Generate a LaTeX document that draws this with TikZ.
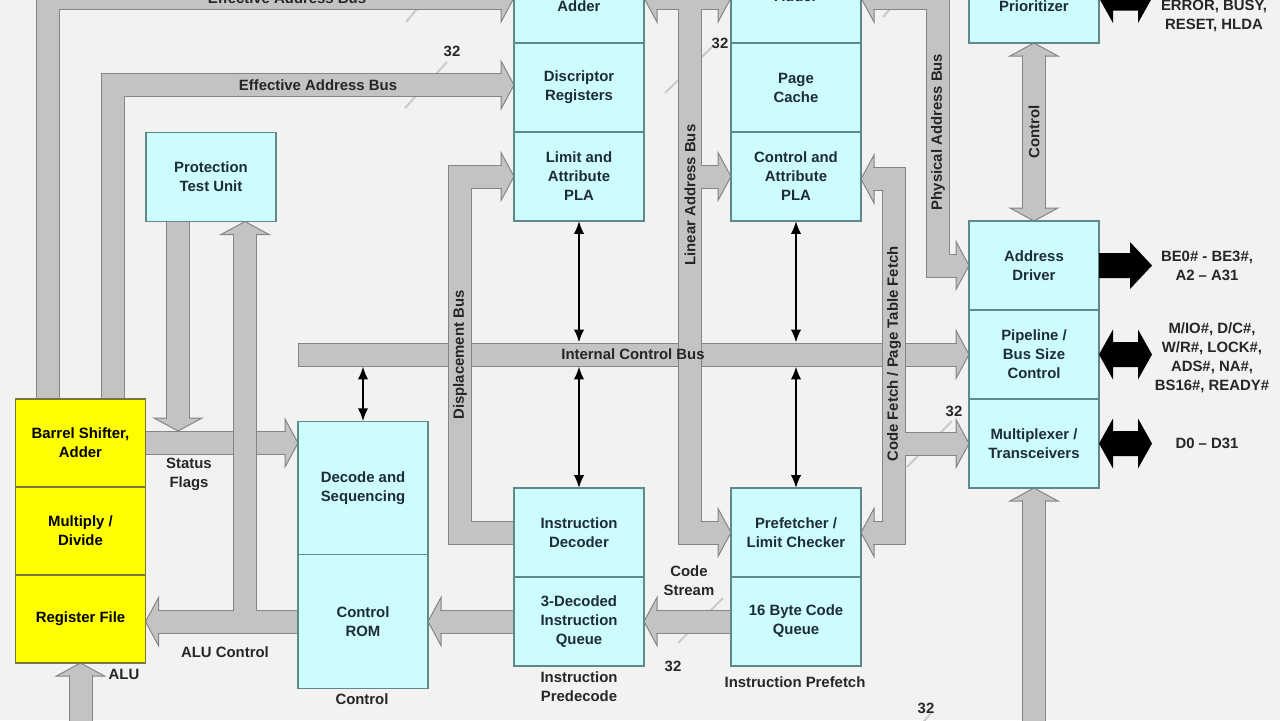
\documentclass[tikz,border=0pt]{standalone}
\usepackage{fontspec}
\setmainfont{Liberation Sans}
\usetikzlibrary{arrows.meta,positioning,calc}
\definecolor{pagebg}{HTML}{F2F2F0}
\definecolor{cellfill}{HTML}{CCFCFC}
\definecolor{cellline}{HTML}{5E8A8C}
\definecolor{celltext}{HTML}{1E2C3A}
\definecolor{alufill}{HTML}{FFFF00}
\definecolor{aluline}{HTML}{77773A}
\definecolor{busfill}{HTML}{C3C3C3}
\definecolor{busline}{HTML}{858585}
\definecolor{tickgray}{HTML}{CBCBCB}
\definecolor{lbltext}{HTML}{262626}
\pgfdeclarelayer{back}
\pgfdeclarelayer{buses}
\pgfsetlayers{back,buses,main}
\newcommand\diafont{\fontsize{10.6}{13.5}\selectfont\bfseries}

\begin{document}
\begin{tikzpicture}[
    x=0.25mm, y=-0.25mm,
    font=\diafont,
    cell/.style={draw=cellline, fill=cellfill, line width=0.3mm, minimum width=32.5mm, minimum height=22.25mm, inner sep=0pt, outer sep=0pt, align=center, text=celltext},
    alucell/.style={cell, draw=aluline, fill=alufill, text=black, minimum height=22mm},
    tallcell/.style={cell, minimum height=33.4mm},
    lbl/.style={text=lbltext, align=center, inner sep=0pt},
    bus/.style={draw=busline, double=busfill, double distance=5.5mm, line width=0.25mm, line join=miter},
    bushead/.style={fill=busfill, draw=busline, line width=0.25mm, line join=miter},
    tick/.style={tickgray, line width=0.5mm},
    sig/.style={{Latex[length=3.2mm,width=2.6mm]}-{Latex[length=3.2mm,width=2.6mm]}, line width=0.5mm},
    pics/busR/.style={code={\filldraw[bushead] (0,0) -- (-13,-24) -- (-13,24) -- cycle;}},
    pics/busL/.style={code={\filldraw[bushead] (0,0) -- (13,-24) -- (13,24) -- cycle;}},
    pics/busU/.style={code={\filldraw[bushead] (0,0) -- (-24,13) -- (24,13) -- cycle;}},
    pics/busD/.style={code={\filldraw[bushead] (0,0) -- (-24,-13) -- (24,-13) -- cycle;}},
    pics/sigtwo/.style={code={\fill (0,0) -- (14,-25) -- (14,-12.5) -- (39,-12.5) -- (39,-25) -- (53,0) -- (39,25) -- (39,12.5) -- (14,12.5) -- (14,25) -- cycle;}},
    pics/sigone/.style={code={\fill (0,-12.5) -- (31,-12.5) -- (31,-23.5) -- (53,0) -- (31,23.5) -- (31,12.5) -- (0,12.5) -- cycle;}},
]
    \useasboundingbox (0,0) rectangle (1280,720);
    \begin{pgfonlayer}{back}
        \fill[pagebg] (0,0) rectangle (1280,720);
    \end{pgfonlayer}

    % ---------------------------------------------------------------
    % Segmentation and paging units
    % ---------------------------------------------------------------
    \node[cell] (segdesc) at (579,87.5) {Discriptor\\Registers};
    \node[cell, minimum height=18.25mm, above=0pt of segdesc] (segadd) {Adder};
    \node[cell, below=0pt of segdesc] (segpla) {Limit and\\Attribute\\PLA};

    \node[cell] (pgcache) at (796,87.5) {Page\\Cache};
    \node[cell, minimum height=23.25mm, above=0pt of pgcache] (pgadd) {Adder};
    \node[cell, below=0pt of pgcache] (pgpla) {Control and\\Attribute\\PLA};

    % ---------------------------------------------------------------
    % Bus interface unit
    % ---------------------------------------------------------------
    \node[cell, minimum height=18.25mm] (prio) at (1034,6.5) {Prioritizer};
    \node[cell] (adrv) at (1034,265.5) {Address\\Driver};
    \node[cell, below=0pt of adrv] (pipe) {Pipeline /\\Bus Size\\Control};
    \node[cell, below=0pt of pipe] (mux) {Multiplexer /\\Transceivers};

    % ---------------------------------------------------------------
    % Execution and control units
    % ---------------------------------------------------------------
    \node[cell] (ptu) at (211,177) {Protection\\Test Unit};
    \node[alucell] (alu1) at (80.5,443) {Barrel Shifter,\\Adder};
    \node[alucell, below=0pt of alu1] (alu2) {Multiply /\\Divide};
    \node[alucell, below=0pt of alu2] (regf) {Register File};
    \node[tallcell] (decseq) at (363,488) {Decode and\\Sequencing};
    \node[tallcell, below=0pt of decseq] (rom) {Control\\ROM};

    % ---------------------------------------------------------------
    % Instruction decode and prefetch units
    % ---------------------------------------------------------------
    \node[cell] (idec) at (579,532.5) {Instruction\\Decoder};
    \node[cell, below=0pt of idec] (dq) {3-Decoded\\Instruction\\Queue};
    \node[cell] (prefetch) at (796,532.5) {Prefetcher /\\Limit Checker};
    \node[cell, below=0pt of prefetch] (cq) {16 Byte Code\\Queue};

    % bus end points
    \coordinate (eaOtip) at (segadd.west |- 0,-2);
    \coordinate (eaItip) at (segdesc.west |- 0,85);
    \coordinate (linL) at (segadd.east |- 0,-2);
    \coordinate (linR) at (pgadd.west |- 0,-2);
    \coordinate (linPla) at (pgpla.west);
    \coordinate (linPf) at (prefetch.west);
    \coordinate (phyL) at (pgadd.east |- 0,-2);
    \coordinate (phyR) at (adrv.west);
    \coordinate (cfA) at (pgpla.east |- 0,179);
    \coordinate (cfB) at (prefetch.east);
    \coordinate (cfC) at (mux.west);
    \coordinate (icbTip) at (pipe.west);
    \coordinate (icbL) at (decseq.west |- icbTip);
    \coordinate (icbN) at ([yshift=3mm]icbL);
    \coordinate (icbS) at ([yshift=-3mm]icbL);
    \coordinate (stTip) at (decseq.west |- alu1.east);
    \coordinate (ptdTip) at (178,431);
    \coordinate (acTip) at (rom.west -| regf.east);
    \coordinate (ptuIn) at (ptu.south -| 245,0);
    \coordinate (romTip) at (rom.east |- dq.west);

    \begin{pgfonlayer}{buses}
        % width marks
        \draw[tick] (406,22) -- (440,-18);
        \draw[tick] (405,108) -- (447,62);
        \draw[tick] (665,93) -- (712,47);
        \draw[tick] (678,643) -- (723,598);
        \draw[tick] (907,467) -- (952,421);
        \draw[tick] (883,17) -- (905,-8);
        \draw[tick] (920,726) -- (931,713);

        % arrow heads
        \pic at (eaOtip) {busR};
        \pic at (eaItip) {busR};
        \pic at (linL) {busL};
        \pic at (linR) {busR};
        \pic at (linPla) {busR};
        \pic at (linPf) {busR};
        \pic at (phyL) {busL};
        \pic at (phyR) {busR};
        \pic at (cfA) {busL};
        \pic at (cfB) {busL};
        \pic at (cfC) {busR};
        \pic at (icbTip) {busR};
        \pic at (segpla.west) {busR};
        \pic at (stTip) {busR};
        \pic at (ptdTip) {busD};
        \pic at (acTip) {busL};
        \pic at (ptuIn) {busU};
        \pic at (romTip) {busL};
        \pic at (dq.east) {busL};
        \pic at (regf.south) {busU};
        \pic at (mux.south) {busU};
        \pic at (prio.south) {busU};
        \pic at (adrv.north) {busD};

        % bus bands
        \draw[bus] (alu1.east) -- ([xshift=-3mm]stTip);
        \draw[bus] (icbL) -- ([xshift=-3mm]icbTip);
        \draw[busline, line width=0.25mm] (icbN) -- (icbS);
        \draw[bus] (ptu.south -| 178,0) -- ([yshift=3mm]ptdTip);
        \draw[bus] (rom.west) -- ([xshift=3mm]acTip) (rom.west -| 245,0) -- ([yshift=-3mm]ptuIn);
        \draw[bus] (alu1.north -| 48,0) |- ([xshift=-3mm]eaOtip);
        \draw[bus] (alu1.north -| 113,0) |- ([xshift=-3mm]eaItip);
        \draw[bus] ([xshift=3mm]linL) -- ([xshift=-3mm]linR)
                   (linL -| 690,0) |- ([xshift=-3mm]linPf)
                   (linPla -| 690,0) -- ([xshift=-3mm]linPla);
        \draw[bus] ([xshift=3mm]phyL) -- (phyL -| 937.5,0) |- ([xshift=-3mm]phyR);
        \draw[bus] ([xshift=3mm]cfA) -- (cfA -| 894,0) |- ([xshift=3mm]cfB)
                   (cfC -| 894,0) -- ([xshift=-3mm]cfC);
        \draw[bus] (idec.west) -- (idec.west -| 460,0) |- ([xshift=-3mm]segpla.west);
        \draw[bus] (dq.west) -- ([xshift=3mm]romTip);
        \draw[bus] (cq.west) -- ([xshift=3mm]dq.east);
        \draw[bus] (regf.south |- 0,730) -- ([yshift=-3mm]regf.south);
        \draw[bus] (mux.south |- 0,730) -- ([yshift=-3mm]mux.south);
        \draw[bus] ([yshift=-3mm]prio.south) -- ([yshift=3mm]adrv.north);
    \end{pgfonlayer}

    % bus labels
    \node[lbl] (eaolbl) at (287,-2) {Effective Address Bus};
    \node[lbl] (eailbl) at (318,85) {Effective Address Bus};
    \node[lbl] (icblbl) at (633,354) {Internal Control Bus};
    \node[lbl, rotate=90] (linlbl) at (690,195) {Linear Address Bus};
    \node[lbl, rotate=90] (phylbl) at (938,132) {Physical Address Bus};
    \node[lbl, rotate=90] (ctrllbl) at (1034,132) {Control};
    \node[lbl, rotate=90] (cflbl) at (894,354) {Code Fetch / Page Table Fetch};
    \node[lbl, rotate=90] (displbl) at (460,355) {Displacement Bus};

    % bus widths
    \node[lbl] (w1) at (452,51) {32};
    \node[lbl] (w2) at (720,43) {32};
    \node[lbl] (w3) at (954,411) {32};
    \node[lbl] (w4) at (673,666) {32};
    \node[lbl] (w5) at (926,708) {32};

    % unit captions
    \node[lbl] (stlbl) at (189,474.5) {Status\\Flags};
    \node[lbl] (aclbl) at (225,652) {ALU Control};
    \node[lbl] (alulbl) at (124,674) {ALU};
    \node[lbl] (ctllbl) at (362,699) {Control};
    \node[lbl] (predlbl) at (579,686.5) {Instruction\\Predecode};
    \node[lbl] (preflbl) at (795,682) {Instruction Prefetch};
    \node[lbl] (cslbl) at (689,580.5) {Code\\Stream};

    % internal control lines
    \draw[sig] (segpla.south) -- (segpla.south |- icbN);
    \draw[sig] (pgpla.south) -- (pgpla.south |- icbN);
    \draw[sig] (idec.north) -- (idec.north |- icbS);
    \draw[sig] (prefetch.north) -- (prefetch.north |- icbS);
    \draw[sig] (decseq.north) -- (decseq.north |- icbS);

    % external pins
    \pic at (prio.east |- 0,-2) {sigtwo};
    \pic at (adrv.east) {sigone};
    \pic at (pipe.east) {sigtwo};
    \pic at (mux.east) {sigtwo};
    \node[lbl] (errlbl) at (1214,16) {ERROR, BUSY,\\RESET, HLDA};
    \node[lbl] (belbl) at (1207,265.5) {BE0\# - BE3\#,\\A2 -- A31};
    \node[lbl] (pinlbl) at (1212,358) {M/IO\#, D/C\#,\\W/R\#, LOCK\#,\\ADS\#, NA\#,\\BS16\#, READY\#};
    \node[lbl] (dlbl) at (1207,443) {D0 -- D31};

\end{tikzpicture}
\end{document}
